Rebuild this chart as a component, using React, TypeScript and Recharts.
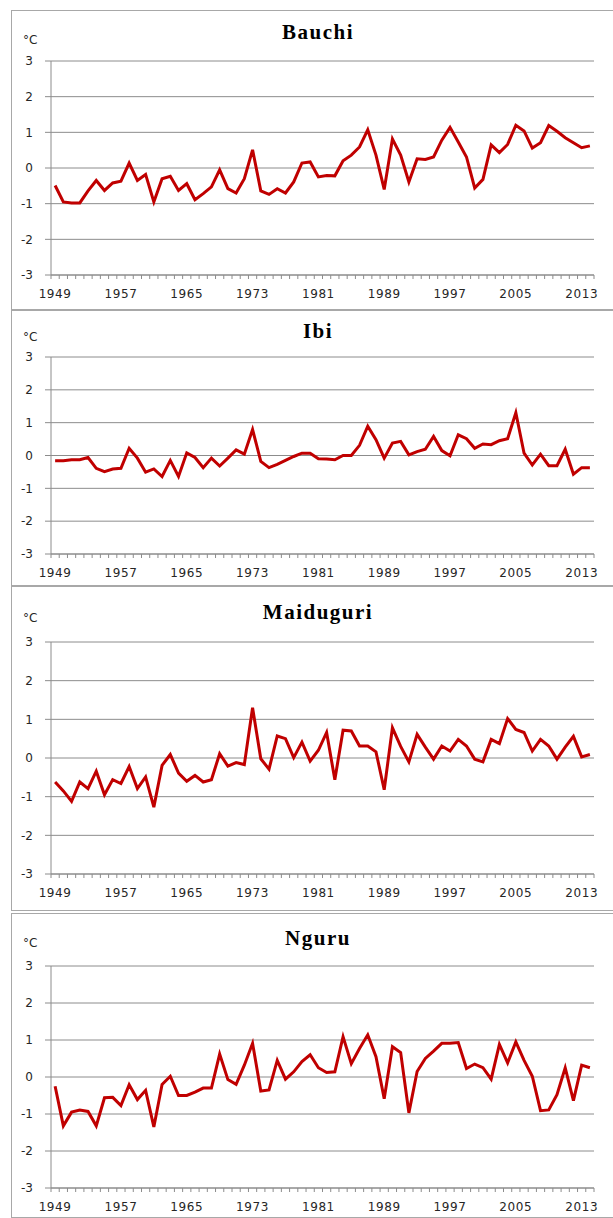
import React from 'react';
import { LineChart, Line, XAxis, YAxis, CartesianGrid } from 'recharts';

// years 1949..2014, labels every 8th year
const years = [
  1949, 1950, 1951, 1952, 1953, 1954, 1955, 1956, 1957, 1958,
  1959, 1960, 1961, 1962, 1963, 1964, 1965, 1966, 1967, 1968,
  1969, 1970, 1971, 1972, 1973, 1974, 1975, 1976, 1977, 1978,
  1979, 1980, 1981, 1982, 1983, 1984, 1985, 1986, 1987, 1988,
  1989, 1990, 1991, 1992, 1993, 1994, 1995, 1996, 1997, 1998,
  1999, 2000, 2001, 2002, 2003, 2004, 2005, 2006, 2007, 2008,
  2009, 2010, 2011, 2012, 2013, 2014,
];
const yTicks = [-3, -2, -1, 0, 1, 2, 3];

const bauchi = [
  -0.49, -0.95, -0.98, -0.98, -0.64, -0.35, -0.63, -0.42, -0.37, 0.14,
  -0.35, -0.18, -0.95, -0.3, -0.23, -0.63, -0.44, -0.89, -0.72, -0.53,
  -0.05, -0.58, -0.7, -0.3, 0.51, -0.64, -0.74, -0.58, -0.7, -0.39,
  0.14, 0.17, -0.25, -0.21, -0.22, 0.2, 0.36, 0.59, 1.07, 0.36,
  -0.6, 0.81, 0.36, -0.39, 0.26, 0.24, 0.31, 0.78, 1.14, 0.73,
  0.31, -0.56, -0.32, 0.65, 0.43, 0.66, 1.2, 1.04, 0.56, 0.71,
  1.19, 1.03, 0.85, 0.71, 0.57, 0.62,
];
const ibi = [
  -0.16, -0.16, -0.13, -0.13, -0.06, -0.39, -0.49, -0.41, -0.39, 0.22,
  -0.08, -0.51, -0.41, -0.64, -0.15, -0.64, 0.08, -0.06, -0.37, -0.08,
  -0.32, -0.08, 0.17, 0.04, 0.79, -0.18, -0.37, -0.27, -0.15, -0.03,
  0.07, 0.07, -0.1, -0.11, -0.13, 0.0, 0.0, 0.31, 0.89, 0.48,
  -0.08, 0.38, 0.43, 0.02, 0.12, 0.19, 0.58, 0.15, -0.01, 0.63,
  0.51, 0.22, 0.35, 0.33, 0.45, 0.51, 1.3, 0.07, -0.29, 0.04,
  -0.31, -0.31, 0.19, -0.57, -0.37, -0.37,
];
const maiduguri = [
  -0.62, -0.85, -1.12, -0.62, -0.79, -0.34, -0.95, -0.56, -0.66, -0.22,
  -0.79, -0.49, -1.27, -0.19, 0.09, -0.39, -0.6, -0.45, -0.62, -0.56,
  0.11, -0.21, -0.12, -0.17, 1.3, -0.02, -0.29, 0.57, 0.5, 0.01,
  0.41, -0.08, 0.2, 0.66, -0.56, 0.72, 0.7, 0.31, 0.31, 0.16,
  -0.82, 0.78, 0.3, -0.1, 0.61, 0.28, -0.03, 0.31, 0.18, 0.48,
  0.31, -0.03, -0.1, 0.48, 0.37, 1.02, 0.74, 0.66, 0.18, 0.48,
  0.31, -0.03, 0.28, 0.56, 0.03, 0.09,
];
const nguru = [
  -0.25, -1.32, -0.95, -0.89, -0.93, -1.32, -0.56, -0.55, -0.77, -0.21,
  -0.61, -0.36, -1.35, -0.2, 0.02, -0.5, -0.5, -0.41, -0.3, -0.3,
  0.62, -0.07, -0.2, 0.32, 0.91, -0.38, -0.35, 0.45, -0.06, 0.14,
  0.42, 0.6, 0.25, 0.12, 0.14, 1.09, 0.36, 0.77, 1.14, 0.55,
  -0.59, 0.82, 0.66, -0.97, 0.15, 0.5, 0.7, 0.91, 0.91, 0.93,
  0.23, 0.35, 0.25, -0.06, 0.88, 0.38, 0.95, 0.45, 0.02, -0.91,
  -0.89, -0.48, 0.25, -0.64, 0.32, 0.25,
];

const W = 613;
const PLOT_LEFT = 51;
const PLOT_RIGHT = 594;
const Y_AXIS_W = 40;
const X_AXIS_H = 30;
const BAND = (PLOT_RIGHT - PLOT_LEFT) / years.length;
const GRID = '#8c8c8c';
const LINE = '#c00000';
const TEXT = '#262626';
const TICK_SIZE = 4;
const TICK_MARGIN = 10;

const YearTick = (props: any) => {
  const { x, y, payload, index } = props;
  const half = BAND / 2;
  const axisY = y - TICK_SIZE - TICK_MARGIN;
  return (
    <g>
      <line x1={x - half} x2={x - half} y1={axisY} y2={axisY + TICK_SIZE} stroke={GRID} />
      {index === years.length - 1 && (
        <line x1={x + half} x2={x + half} y1={axisY} y2={axisY + TICK_SIZE} stroke={GRID} />
      )}
      {index % 8 === 0 && (
        <text
          x={x}
          y={y}
          dy="0.71em"
          textAnchor="middle"
          fill={TEXT}
          fontSize={12}
          letterSpacing={0.6}
          fontFamily="DejaVu Sans, Verdana, sans-serif"
        >
          {payload.value}
        </text>
      )}
    </g>
  );
};

interface PanelProps {
  title: string;
  values: number[];
  top: number;
  bottom: number;
  plotTop: number;
  plotBottom: number;
  titleY: number;
  unitY: number;
}

const Panel: React.FC<PanelProps> = ({ title, values, top, bottom, plotTop, plotBottom, titleY, unitY }) => {
  const data = years.map((year, i) => ({ year, value: values[i] }));
  const height = bottom - top;
  return (
    <>
      <div
        style={{
          position: 'absolute',
          left: 11,
          top,
          width: 640,
          height: height - 2,
          border: '1px solid #a8a8a8',
        }}
      />
      <div
        style={{
          position: 'absolute',
          left: 218,
          width: 200,
          top: titleY - 12,
          lineHeight: '24px',
          textAlign: 'center',
          fontFamily: 'Liberation Serif, Times New Roman, serif',
          fontWeight: 'bold',
          fontSize: 21,
          letterSpacing: 1.5,
          color: '#000',
        }}
      >
        {title}
      </div>
      <div
        style={{
          position: 'absolute',
          left: 23,
          top: unitY - 8,
          lineHeight: '16px',
          fontFamily: 'DejaVu Sans, sans-serif',
          fontSize: 12,
          color: TEXT,
        }}
      >
        °C
      </div>
      <div style={{ position: 'absolute', left: 0, top }}>
        <LineChart
          width={W}
          height={height}
          data={data}
          margin={{
            top: plotTop - top,
            right: W - PLOT_RIGHT,
            left: PLOT_LEFT - Y_AXIS_W,
            bottom: bottom - plotBottom - X_AXIS_H,
          }}
        >
          <CartesianGrid vertical={false} stroke={GRID} />
          <XAxis
            dataKey="year"
            interval={0}
            height={X_AXIS_H}
            padding={{ left: BAND / 2, right: BAND / 2 }}
            tickLine={false}
            tickSize={TICK_SIZE}
            tickMargin={TICK_MARGIN}
            axisLine={{ stroke: GRID }}
            tick={(p: any) => <YearTick {...p} />}
          />
          <YAxis
            width={Y_AXIS_W}
            domain={[-3, 3]}
            ticks={yTicks}
            interval={0}
            tickSize={6}
            tickMargin={12}
            axisLine={{ stroke: GRID }}
            tickLine={{ stroke: GRID }}
            tick={{ fill: TEXT, fontSize: 12, fontFamily: 'DejaVu Sans, Verdana, sans-serif' }}
          />
          <Line
            type="linear"
            dataKey="value"
            stroke={LINE}
            strokeWidth={3}
            dot={false}
            isAnimationActive={false}
          />
        </LineChart>
      </div>
    </>
  );
};

export default function App() {
  return (
    <div
      style={{
        position: 'absolute',
        left: 0,
        top: 0,
        width: W,
        height: 1218,
        overflow: 'hidden',
        background: '#fff',
      }}
    >
      <Panel title="Bauchi" values={bauchi} top={10} bottom={310} plotTop={61} plotBottom={275} titleY={32} unitY={40} />
      <Panel title="Ibi" values={ibi} top={310} bottom={586} plotTop={357} plotBottom={554} titleY={331} unitY={337} />
      <Panel title="Maiduguri" values={maiduguri} top={586} bottom={911} plotTop={642} plotBottom={874} titleY={612} unitY={618} />
      <Panel title="Nguru" values={nguru} top={913} bottom={1218} plotTop={966} plotBottom={1188} titleY={938} unitY={943} />
    </div>
  );
}
